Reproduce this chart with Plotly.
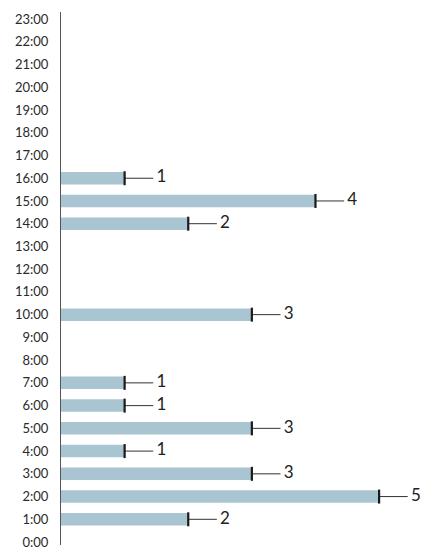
import plotly.graph_objects as go

hours = [f"{h}:00" for h in range(24)]
counts = [0, 2, 5, 3, 1, 3, 1, 1, 0, 0, 3, 0, 0, 0, 2, 4, 1, 0, 0, 0, 0, 0, 0, 0]

# only hours with a value get the end marker / label
hx = [c for c in counts if c > 0]
hy = [h for h, c in zip(hours, counts) if c > 0]

fig = go.Figure()
fig.add_trace(go.Bar(
    x=counts, y=hours, orientation='h',
    marker=dict(color='#a9c5d1', line=dict(width=0)),
    width=0.55, hoverinfo='skip', showlegend=False
))
# end tick + leader line
fig.add_trace(go.Scatter(
    x=hx, y=hy, mode='markers',
    marker=dict(symbol='line-ns', size=10, line=dict(width=2.2, color='#1a1a1a')),
    error_x=dict(type='data', symmetric=False, array=[0.45] * len(hx),
                 arrayminus=[0] * len(hx), color='#333333', thickness=1, width=0),
    hoverinfo='skip', showlegend=False
))
# value labels
fig.add_trace(go.Scatter(
    x=[v + 0.5 for v in hx], y=hy, mode='text',
    text=[str(v) for v in hx], textposition='middle right',
    textfont=dict(family='Lato, sans-serif', size=17, color='#222222'),
    hoverinfo='skip', showlegend=False
))

# page body has an 8px margin, so the figure is drawn a bit smaller
fig.update_layout(
    width=431, height=550,
    margin=dict(l=53, r=2, t=4, b=13, autoexpand=False),
    plot_bgcolor='white', paper_bgcolor='white',
    xaxis=dict(range=[0, 5.91], visible=False, showgrid=False, zeroline=False,
               automargin=False),
    yaxis=dict(
        type='category', categoryorder='array', categoryarray=hours,
        range=[-0.13, 23.31], automargin=False,
        showline=True, linecolor='#555555', linewidth=1,
        showgrid=False, zeroline=False, ticks='', ticklabelstandoff=9,
        tickfont=dict(family='Lato, sans-serif', size=13, color='#2a2a2a'),
    ),
)

fig.write_html("out.html")
